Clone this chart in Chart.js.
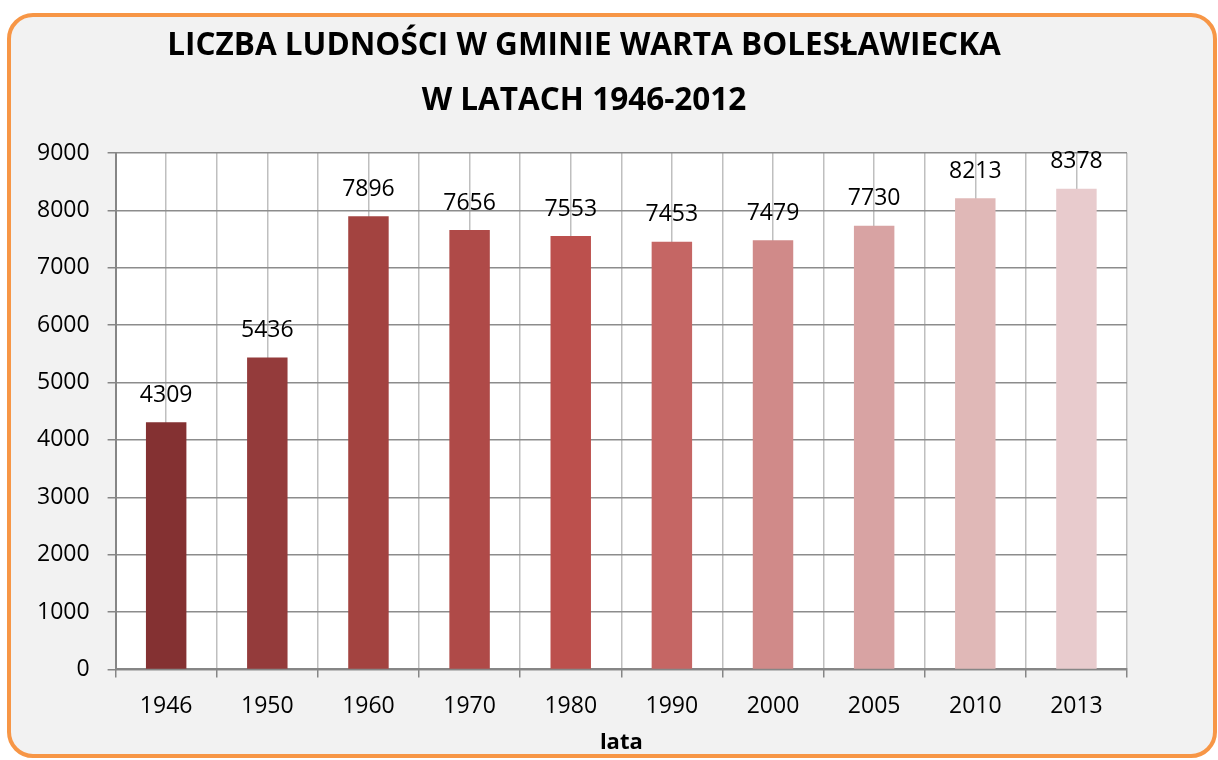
<!DOCTYPE html>
<html>
<head>
<meta charset="utf-8">
<script src="https://cdn.jsdelivr.net/npm/chart.js@4"></script>
<style>
  html, body { margin: 0; padding: 0; background: #ffffff; }
  body { width: 1218px; height: 760px; position: relative; overflow: hidden; }
  #frame {
    position: absolute; left: 7px; top: 13px; width: 1202px; height: 737px;
    border: 4px solid #F79646; border-radius: 26px; background: #F2F2F2;
  }
  #wrap { position: absolute; left: 0; top: 0; width: 1168px; height: 760px; }
</style>
</head>
<body>
<div id="frame"></div>
<div id="wrap"><canvas id="chart" width="1168" height="760"></canvas></div>
<script>
  const years = ['1946', '1950', '1960', '1970', '1980', '1990', '2000', '2005', '2010', '2013'];
  const population = [4309, 5436, 7896, 7656, 7553, 7453, 7479, 7730, 8213, 8378];
  const barColors = ['#843132', '#943B3B', '#A34340', '#AF4A48', '#BC504D',
                     '#C56664', '#D08A89', '#D8A3A3', '#E0B8B7', '#E8CBCD'];
  const titleLines = ['LICZBA LUDNOŚCI W GMINIE WARTA BOLESŁAWIECKA', 'W LATACH 1946-2012'];
  const yTicks = [0, 1000, 2000, 3000, 4000, 5000, 6000, 7000, 8000, 9000];

  const FONT = "'Open Sans', sans-serif";

  // white plot area
  const plotBg = {
    id: 'plotBg',
    beforeDraw(chart) {
      const a = chart.chartArea;
      chart.ctx.save();
      chart.ctx.fillStyle = '#ffffff';
      chart.ctx.fillRect(a.left, a.top, a.right - a.left, a.bottom - a.top);
      chart.ctx.restore();
    }
  };

  // the title in the original sits a little right of the layout box centre
  const titleNudge = {
    id: 'titleNudge',
    afterLayout(chart) {
      if (chart.titleBlock) chart.titleBlock.left += 22;
    }
  };

  // value labels above bars
  const valueLabels = {
    id: 'valueLabels',
    afterDatasetsDraw(chart) {
      const ctx = chart.ctx;
      ctx.save();
      ctx.font = '23px ' + FONT;
      ctx.fillStyle = '#000000';
      ctx.textAlign = 'center';
      ctx.textBaseline = 'middle';
      chart.getDatasetMeta(0).data.forEach((bar, i) => {
        ctx.fillText(String(population[i]), bar.x, bar.y - 27);
      });
      ctx.restore();
    }
  };

  const ctx = document.getElementById('chart').getContext('2d');
  new Chart(ctx, {
    type: 'bar',
    data: {
      datasets: [{
        data: population.map((v, i) => ({ x: i, y: v })),
        backgroundColor: barColors,
        // ticks sit every half category, so this gives 40% of a category
        barPercentage: 0.8,
        categoryPercentage: 1.0
      }]
    },
    options: {
      responsive: false,
      animation: false,
      layout: { padding: { left: 19, right: 41, top: 0, bottom: 0 } },
      plugins: {
        legend: { display: false },
        tooltip: { enabled: false },
        title: {
          display: true,
          text: titleLines,
          color: '#000000',
          font: { family: FONT, size: 31.5, weight: 'bold', lineHeight: '55px' },
          padding: { top: 19, bottom: 24 }
        }
      },
      scales: {
        x: {
          type: 'linear',
          min: -0.5,
          max: 9.5,
          offset: false,
          afterBuildTicks(scale) {
            const t = [];
            for (let k = -1; k <= 19; k++) t.push({ value: k / 2 });
            scale.ticks = t;
          },
          ticks: {
            autoSkip: false,
            maxRotation: 0,
            padding: 15,
            color: '#000000',
            font: { family: FONT, size: 23 },
            callback: v => Number.isInteger(v) ? years[v] : ''
          },
          grid: {
            offset: false,
            color: '#BFBFBF',
            lineWidth: 1.5,
            tickLength: 8,
            tickColor: c => (c.tick && Number.isInteger(c.tick.value)) ? 'rgba(0,0,0,0)' : '#868686'
          },
          border: { color: '#868686', width: 2 },
          title: {
            display: true,
            text: 'lata',
            color: '#000000',
            font: { family: FONT, size: 22, weight: 'bold', lineHeight: 1 },
            padding: { top: -3, bottom: 6 }
          }
        },
        y: {
          min: 0,
          max: 9000,
          afterBuildTicks(scale) {
            scale.ticks = yTicks.map(v => ({ value: v }));
          },
          ticks: {
            padding: 18,
            color: '#000000',
            font: { family: FONT, size: 23 },
            callback: v => String(v)
          },
          grid: {
            color: '#8C8C8C',
            lineWidth: 1.5,
            tickLength: 8,
            tickColor: '#868686'
          },
          border: { color: '#868686', width: 2 }
        }
      }
    },
    plugins: [plotBg, titleNudge, valueLabels]
  });
</script>
</body>
</html>
